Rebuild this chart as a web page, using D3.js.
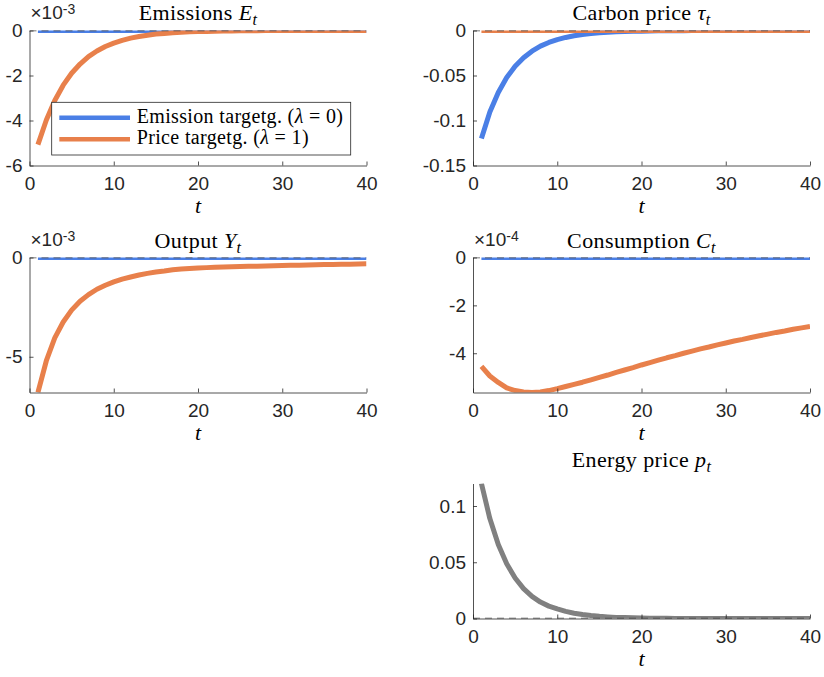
<!DOCTYPE html>
<html>
<head>
<meta charset="utf-8">
<script src="https://cdn.jsdelivr.net/npm/d3@7"></script>
<style>
  body { margin: 0; background: #fff; }
  svg { display: block; }
</style>
</head>
<body>
<svg id="fig" width="824" height="677"></svg>
<script>
// time index, 1..40 quarters
const periods = d3.range(1, 41);
const xTicks = [0, 10, 20, 30, 40];

// a series that stays at steady state
const flat = [0,0,0,0,0,0,0,0,0,0, 0,0,0,0,0,0,0,0,0,0,
              0,0,0,0,0,0,0,0,0,0, 0,0,0,0,0,0,0,0,0,0];

// Emissions E_t, in units of 1e-3
const emisPrice = [-5.07,-3.98,-3.11,-2.43,-1.90,-1.49,-1.16,-0.91,-0.71,-0.56,
                   -0.44,-0.34,-0.27,-0.21,-0.16,-0.13,-0.10,-0.08,-0.06,-0.05,
                   -0.04,-0.03,-0.02,-0.02,-0.01,-0.01,-0.01,0,0,0,
                   0,0,0,0,0,0,0,0,0,0];
const emisTicks = [-6, -4, -2, 0];

// Carbon price tau_t
const taxEmission = [-0.1200,-0.0905,-0.0688,-0.0523,-0.0397,-0.0302,-0.0230,-0.0174,-0.0133,-0.0101,
                     -0.0077,-0.0058,-0.0044,-0.0034,-0.0026,-0.0019,-0.0015,-0.0011,-0.0009,-0.0007,
                     -0.0005,-0.0004,-0.0003,-0.0002,-0.0002,-0.0001,-0.0001,0,0,0,
                     0,0,0,0,0,0,0,0,0,0];
const taxTicks = [-0.15, -0.1, -0.05, 0];

// Output Y_t, in units of 1e-3
const outPrice = [-6.80,-5.20,-4.05,-3.25,-2.65,-2.20,-1.87,-1.60,-1.40,-1.23,
                  -1.09,-0.98,-0.88,-0.80,-0.73,-0.68,-0.62,-0.58,-0.55,-0.53,
                  -0.51,-0.49,-0.475,-0.465,-0.455,-0.445,-0.435,-0.425,-0.415,-0.405,
                  -0.395,-0.385,-0.375,-0.365,-0.357,-0.349,-0.341,-0.334,-0.327,-0.320];
const outTicks = [-5, 0];

// Consumption C_t, in units of 1e-4
const consPrice = [-4.55,-4.95,-5.22,-5.45,-5.56,-5.62,-5.64,-5.62,-5.56,-5.48,
                   -5.39,-5.30,-5.21,-5.11,-5.01,-4.91,-4.80,-4.70,-4.60,-4.49,
                   -4.39,-4.29,-4.19,-4.10,-4.00,-3.91,-3.82,-3.74,-3.65,-3.57,
                   -3.49,-3.42,-3.34,-3.27,-3.20,-3.13,-3.07,-3.00,-2.94,-2.88];
const consTicks = [-4, -2, 0];

// Energy price p_t
const energyPrice = [0.1200,0.0888,0.0657,0.0486,0.0360,0.0266,0.0197,0.0146,0.0110,0.0085,
                     0.0063,0.0047,0.0035,0.0026,0.0019,0.0014,0.0010,0.0008,0.0006,0.0004,
                     0.0003,0.0002,0.0002,0.0001,0.0001,0,0,0,0,0,
                     0,0,0,0,0,0,0,0,0,0];
const energyTicks = [0, 0.05, 0.1];

const legendLabels = [["Emission targetg. (", "λ", " = 0)"], ["Price targetg. (", "λ", " = 1)"]];

const blue = "#4a7fe6";
const orange = "#e8804b";
const gray = "#808080";
const axisColor = "#262626";
const sans = "'Liberation Sans', Arial, Helvetica, sans-serif";
const serif = "'Liberation Serif', 'Times New Roman', serif";

const plotW = 337;
const plotH = 135;
const tickFont = "19px";

const svg = d3.select("#fig");

function drawPanel(p, idx) {
    const g = svg.append("g").attr("transform", `translate(${p.left},${p.top})`);

    const x = d3.scaleLinear().domain([0, 40]).range([0, plotW]);
    const y = d3.scaleLinear().domain(p.yDomain).range([plotH, 0]);

    const clipId = "clip" + idx;
    g.append("clipPath").attr("id", clipId)
        .append("rect").attr("x", 0).attr("y", 0).attr("width", plotW).attr("height", plotH);

    const line = d3.line()
        .x((d, i) => x(periods[i]))
        .y(d => y(d));

    const plots = g.append("g").attr("clip-path", `url(#${clipId})`);

    p.series.forEach(s => {
        plots.append("path")
            .attr("d", line(s.values))
            .attr("fill", "none")
            .attr("stroke", s.color)
            .attr("stroke-width", 5)
            .attr("stroke-linejoin", "round");
    });

    // steady state reference
    plots.append("line")
        .attr("x1", x(0)).attr("x2", x(40))
        .attr("y1", y(0)).attr("y2", y(0))
        .attr("stroke", "#4d4d4d")
        .attr("stroke-width", 1.3)
        .attr("stroke-dasharray", "7,5");

    const xAxis = g.append("g")
        .attr("transform", `translate(0,${plotH})`)
        .call(d3.axisBottom(x).tickValues(xTicks).tickSizeInner(-4).tickSizeOuter(0).tickPadding(11));
    const yAxis = g.append("g")
        .call(d3.axisLeft(y).tickValues(p.yTicks).tickSizeInner(-4).tickSizeOuter(0).tickPadding(7)
            .tickFormat(d => String(+d.toPrecision(6))));

    [xAxis, yAxis].forEach(a => {
        a.attr("font-size", null).attr("font-family", null);
        a.selectAll("path, line").attr("stroke", axisColor).attr("stroke-width", 0.8);
        a.selectAll("text")
            .attr("fill", axisColor)
            .attr("font-family", sans)
            .attr("font-size", tickFont);
    });

    if (p.exponent) {
        const ex = g.append("text")
            .attr("x", 1).attr("y", -12)
            .attr("fill", axisColor)
            .attr("font-family", sans)
            .attr("font-size", "19px");
        ex.append("tspan").text("×10");
        ex.append("tspan").attr("dy", -5).attr("font-size", "14px").text(p.exponent);
    }

    const title = g.append("text")
        .attr("x", plotW / 2)
        .attr("y", -p.titleGap)
        .attr("text-anchor", "middle")
        .attr("fill", "#000")
        .attr("font-family", serif)
        .attr("font-size", "22px")
        .attr("letter-spacing", "0.4px");
    title.append("tspan").text(p.title[0] + " ");
    title.append("tspan").attr("font-style", "italic").text(p.title[1]);
    title.append("tspan").attr("dy", 5).attr("font-style", "italic").attr("font-size", "16px").text("t");

    g.append("text")
        .attr("x", plotW / 2)
        .attr("y", plotH + 47)
        .attr("text-anchor", "middle")
        .attr("font-family", serif)
        .attr("font-style", "italic")
        .attr("font-size", "22px")
        .text("t");

    return g;
}

const panels = [
    {left: 29.5, top: 30.5, title: ["Emissions", "E"], titleGap: 10.5, exponent: "-3",
     yDomain: [-6, 0], yTicks: emisTicks,
     series: [{values: flat, color: blue}, {values: emisPrice, color: orange}]},
    {left: 473, top: 30.5, title: ["Carbon price", "τ"], titleGap: 10.5,
     yDomain: [-0.15, 0], yTicks: taxTicks,
     series: [{values: taxEmission, color: blue}, {values: flat, color: orange}]},
    {left: 29.5, top: 257.5, title: ["Output", "Y"], titleGap: 9.5, exponent: "-3",
     yDomain: [d3.min(outPrice), 0], yTicks: outTicks,
     series: [{values: flat, color: blue}, {values: outPrice, color: orange}]},
    {left: 473, top: 257.5, title: ["Consumption", "C"], titleGap: 9.5, exponent: "-4",
     yDomain: [d3.min(consPrice), 0], yTicks: consTicks,
     series: [{values: flat, color: blue}, {values: consPrice, color: orange}]},
    {left: 473, top: 483.5, title: ["Energy price", "p"], titleGap: 16.5,
     yDomain: [0, d3.max(energyPrice)], yTicks: energyTicks,
     series: [{values: energyPrice, color: gray}]}
];

const groups = panels.map(drawPanel);

// legend sits inside the emissions panel
const legend = groups[0].append("g").attr("transform", "translate(22.2,71.8)");
legend.append("rect")
    .attr("width", 299).attr("height", 52.7)
    .attr("fill", "#fff")
    .attr("stroke", axisColor)
    .attr("stroke-width", 0.8);

[blue, orange].forEach((c, i) => {
    const row = legend.append("g").attr("transform", `translate(0,${15.4 + i * 21.6})`);
    row.append("line")
        .attr("x1", 7.6).attr("x2", 78.3)
        .attr("stroke", c).attr("stroke-width", 4.5);
    const txt = row.append("text")
        .attr("x", 85).attr("y", 5)
        .attr("font-family", serif)
        .attr("font-size", "20px")
        .attr("letter-spacing", "0.35px");
    txt.append("tspan").text(legendLabels[i][0]);
    txt.append("tspan").attr("font-style", "italic").text(legendLabels[i][1]);
    txt.append("tspan").text(legendLabels[i][2]);
});
</script>
</body>
</html>
